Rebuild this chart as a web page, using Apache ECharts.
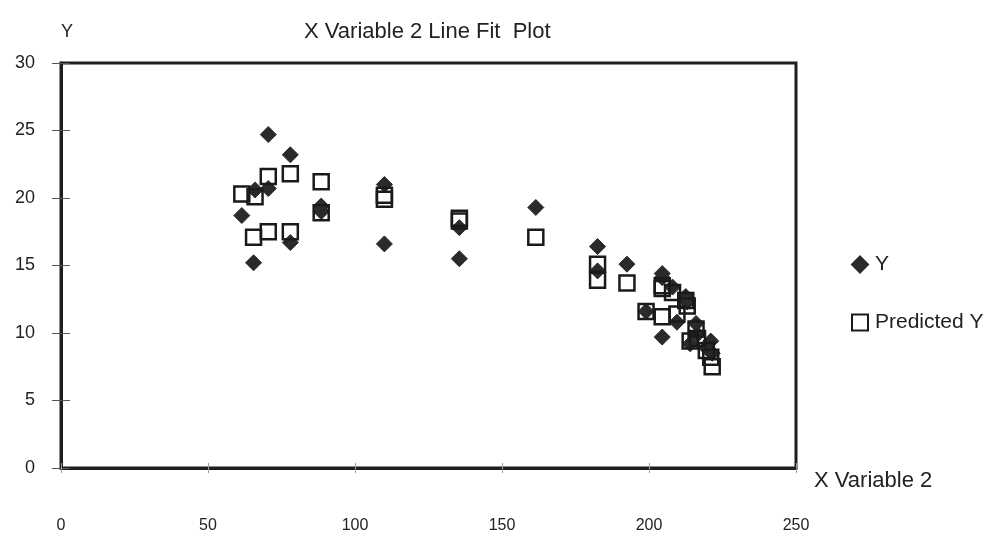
<!DOCTYPE html>
<html>
<head>
<meta charset="utf-8">
<script src="https://cdn.jsdelivr.net/npm/echarts@6/dist/echarts.min.js"></script>
<style>html,body{margin:0;padding:0;background:#fff}#c{width:1000px;height:539px}</style>
</head>
<body>
<div id="c"></div>
<script>
const xValues    = [61.5, 65.5, 66, 70.5, 70.5, 78, 78, 88.5, 88.5, 110, 110, 135.5, 135.5, 161.5, 182.5, 182.5, 192.5, 199, 204.5, 204.5, 204.5, 208, 209.5, 212.5, 213, 216, 216.5, 214, 219.5, 221, 221.5];
const yValues    = [18.7, 15.2, 20.6, 24.7, 20.7, 23.2, 16.7, 19.4, 19.0, 21.0, 16.6, 17.8, 15.5, 19.3, 16.4, 14.6, 15.1, 11.6, 14.4, 9.7, 14.1, 13.4, 10.8, 12.7, 12.3, 10.7, 9.9, 9.2, 8.9, 9.4, 8.5];
const predValues = [20.3, 17.1, 20.1, 21.6, 17.5, 21.8, 17.5, 21.2, 18.9, 20.2, 19.9, 18.5, 18.3, 17.1, 15.1, 13.9, 13.7, 11.6, 13.5, 11.2, 13.3, 13.0, 11.4, 12.4, 12.0, 10.3, 9.6, 9.4, 8.7, 8.2, 7.5];
const xTicks = [0, 50, 100, 150, 200, 250];
const yTicks = [0, 5, 10, 15, 20, 25, 30];

const chart = echarts.init(document.getElementById('c'), null, {renderer: 'canvas'});
const font = 'Liberation Sans, Arial, sans-serif';
const xMin = xTicks[0], xMax = xTicks[xTicks.length - 1];
const yMin = yTicks[0], yMax = yTicks[yTicks.length - 1];
chart.setOption({
  backgroundColor: '#fff',
  animation: false,
  title: {
    text: 'X Variable 2 Line Fit  Plot',
    left: 299, top: 16,
    textStyle: {fontFamily: font, fontSize: 22, fontWeight: 'normal', color: '#222'}
  },
  legend: {
    orient: 'vertical', left: 846, top: 249, itemGap: 37,
    itemWidth: 16, itemHeight: 16,
    textStyle: {fontFamily: font, fontSize: 21, color: '#222', padding: [0, 0, 0, 2]},
    data: [{name: 'Y', icon: 'diamond'}, {name: 'Predicted Y', icon: 'rect'}]
  },
  grid: {
    left: 61, right: 204, top: 63, bottom: 71,
    show: true, borderColor: '#1e1e1e', borderWidth: 3, backgroundColor: '#fff'
  },
  xAxis: [{
    type: 'value', min: xMin, max: xMax, interval: 50,
    name: 'X Variable 2', nameLocation: 'end', nameGap: 18,
    nameTextStyle: {fontFamily: font, fontSize: 22, color: '#222', verticalAlign: 'top', padding: [2, 0, 0, 0]},
    axisLine: {show: true, lineStyle: {color: '#1e1e1e', width: 3}},
    axisTick: {show: true, length: 5, lineStyle: {color: '#999'}},
    splitLine: {show: false},
    axisLabel: {margin: 50, fontFamily: font, fontSize: 16, color: '#222'}
  }, {
    type: 'value', min: xMin, max: xMax, interval: 50, position: 'bottom',
    axisLine: {show: false}, axisTick: {show: true, inside: true, length: 5, lineStyle: {color: '#999'}},
    axisLabel: {show: false}, splitLine: {show: false}
  }],
  yAxis: [{
    type: 'value', min: yMin, max: yMax, interval: 5,
    name: 'Y', nameLocation: 'end', nameGap: 22,
    nameTextStyle: {fontFamily: font, fontSize: 18, color: '#222', align: 'center', padding: [0, 0, 0, 12]},
    axisLine: {show: true, lineStyle: {color: '#1e1e1e', width: 3}},
    axisTick: {show: true, length: 9, lineStyle: {color: '#555'}},
    splitLine: {show: false},
    axisLabel: {margin: 26, fontFamily: font, fontSize: 18, color: '#222'}
  }, {
    type: 'value', min: yMin, max: yMax, interval: 5, position: 'left',
    axisLine: {show: false}, axisTick: {show: true, inside: true, length: 9, lineStyle: {color: '#555'}},
    axisLabel: {show: false}, splitLine: {show: false}
  }],
  series: [
    {
      name: 'Y', type: 'scatter', symbol: 'diamond', symbolSize: 16,
      itemStyle: {color: '#2a2a2a', borderColor: '#2a2a2a', borderWidth: 1, opacity: 1},
      data: xValues.map((x, i) => [x, yValues[i]]), z: 3
    },
    {
      name: 'Predicted Y', type: 'scatter', symbol: 'rect', symbolSize: 15,
      itemStyle: {color: 'rgba(255,255,255,0)', borderColor: '#1a1a1a', borderWidth: 2.5, opacity: 1},
      data: xValues.map((x, i) => [x, predValues[i]]), z: 4
    }
  ]
});
</script>
</body>
</html>
